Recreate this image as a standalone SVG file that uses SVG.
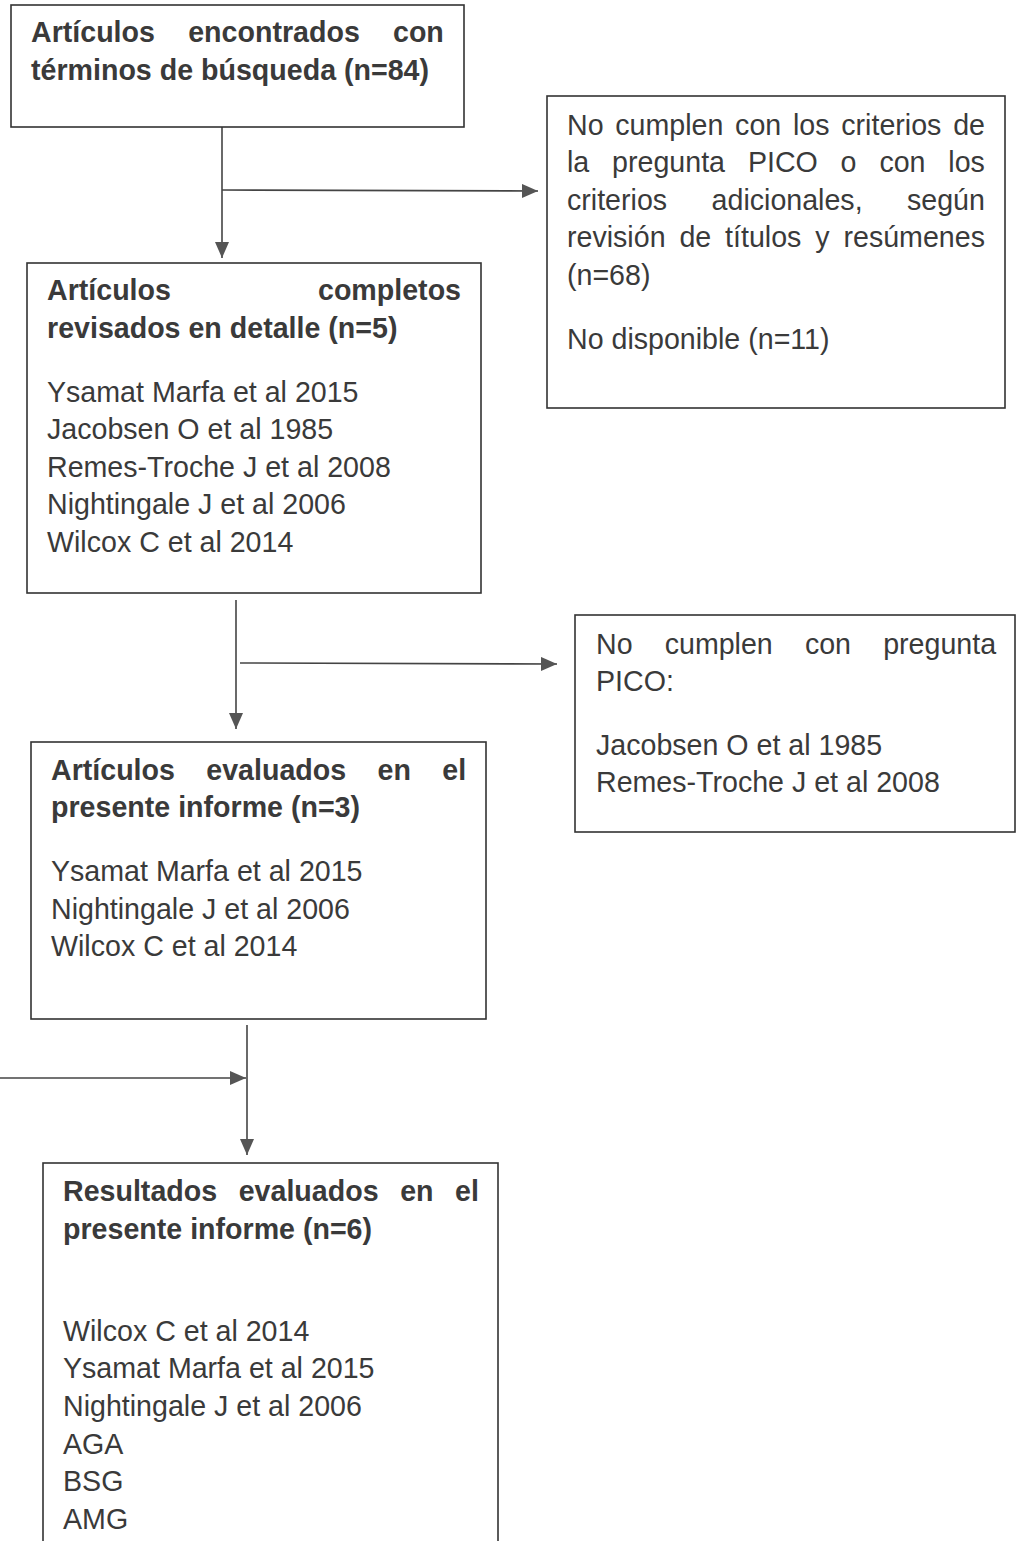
<svg xmlns="http://www.w3.org/2000/svg" width="1019" height="1541" viewBox="0 0 1019 1541">
<style>
.box{fill:#fff;stroke:#333;stroke-width:1.6}
.t{font-family:"Liberation Sans",Arial,sans-serif;font-size:28.6px;fill:#3a3a3a}
.b{font-weight:bold}
.c{stroke:#444;stroke-width:1.6;fill:none}
.e{text-anchor:end}
</style>
<defs>
<marker id="ah" markerUnits="userSpaceOnUse" markerWidth="18" markerHeight="14" refX="16" refY="7" orient="auto">
<path d="M0,0 L16,7 L0,14 Z" fill="#555"/>
</marker>
</defs>
<rect width="1019" height="1541" fill="#fff"/>
<g id="connectors">
<line class="c" x1="222" y1="127" x2="222" y2="258" marker-end="url(#ah)"/>
<line class="c" x1="222" y1="190" x2="538" y2="191" marker-end="url(#ah)"/>
<line class="c" x1="236" y1="600" x2="236" y2="729" marker-end="url(#ah)"/>
<line class="c" x1="240" y1="663" x2="557" y2="664" marker-end="url(#ah)"/>
<line class="c" x1="247" y1="1025" x2="247" y2="1155" marker-end="url(#ah)"/>
<line class="c" x1="0" y1="1078" x2="246" y2="1078" marker-end="url(#ah)"/>
</g>
<g id="n1">
<rect class="box" x="11" y="5" width="453" height="122"/>
<text class="t b" y="42"><tspan x="31">Artículos</tspan><tspan x="188.2">encontrados</tspan><tspan x="393">con</tspan></text>
<text class="t b" x="31" y="80">términos de búsqueda (n=84)</text>
</g>
<g id="n2">
<rect class="box" x="547" y="96" width="458" height="312"/>
<text class="t" y="135"><tspan x="567">No</tspan><tspan x="615.3">cumplen</tspan><tspan x="735.1">con</tspan><tspan x="793">los</tspan><tspan x="841.3">criterios</tspan><tspan x="953.2">de</tspan></text>
<text class="t" y="172"><tspan x="567">la</tspan><tspan x="612.1">pregunta</tspan><tspan x="747.9">PICO</tspan><tspan x="840.6">o</tspan><tspan x="879.4">con</tspan><tspan x="948.3">los</tspan></text>
<text class="t" y="210"><tspan x="567">criterios</tspan><tspan x="711.6">adicionales,</tspan><tspan x="907">según</tspan></text>
<text class="t" y="247"><tspan x="567">revisión</tspan><tspan x="679.4">de</tspan><tspan x="725.1">títulos</tspan><tspan x="815.3">y</tspan><tspan x="843.5">resúmenes</tspan></text>
<text class="t" x="567" y="285">(n=68)</text>
<text class="t" x="567" y="349">No disponible (n=11)</text>
</g>
<g id="n3">
<rect class="box" x="27" y="263" width="454" height="330"/>
<text class="t b" y="300"><tspan x="47">Artículos</tspan><tspan x="461" class="e">completos</tspan></text>
<text class="t b" x="47" y="338">revisados en detalle (n=5)</text>
<text class="t" x="47" y="402">Ysamat Marfa et al 2015</text>
<text class="t" x="47" y="439">Jacobsen O et al 1985</text>
<text class="t" x="47" y="477">Remes-Troche J et al 2008</text>
<text class="t" x="47" y="514">Nightingale J et al 2006</text>
<text class="t" x="47" y="552">Wilcox C et al 2014</text>
</g>
<g id="n4">
<rect class="box" x="575" y="615" width="440" height="217"/>
<text class="t" y="654"><tspan x="596">No</tspan><tspan x="664.7">cumplen</tspan><tspan x="804.9">con</tspan><tspan x="883.2">pregunta</tspan></text>
<text class="t" x="596" y="691">PICO:</text>
<text class="t" x="596" y="755">Jacobsen O et al 1985</text>
<text class="t" x="596" y="792">Remes-Troche J et al 2008</text>
</g>
<g id="n5">
<rect class="box" x="31" y="742" width="455" height="277"/>
<text class="t b" y="780"><tspan x="51">Artículos</tspan><tspan x="206.3">evaluados</tspan><tspan x="377.6">en</tspan><tspan x="442.3">el</tspan></text>
<text class="t b" x="51" y="817">presente informe (n=3)</text>
<text class="t" x="51" y="881">Ysamat Marfa et al 2015</text>
<text class="t" x="51" y="919">Nightingale J et al 2006</text>
<text class="t" x="51" y="956">Wilcox C et al 2014</text>
</g>
<g id="n6">
<rect class="box" x="43" y="1163" width="455" height="400"/>
<text class="t b" y="1201"><tspan x="63">Resultados</tspan><tspan x="238.7">evaluados</tspan><tspan x="400.2">en</tspan><tspan x="455.1">el</tspan></text>
<text class="t b" x="63" y="1239">presente informe (n=6)</text>
<text class="t" x="63" y="1341">Wilcox C et al 2014</text>
<text class="t" x="63" y="1378">Ysamat Marfa et al 2015</text>
<text class="t" x="63" y="1416">Nightingale J et al 2006</text>
<text class="t" x="63" y="1454">AGA</text>
<text class="t" x="63" y="1491">BSG</text>
<text class="t" x="63" y="1529">AMG</text>
</g>
</svg>
